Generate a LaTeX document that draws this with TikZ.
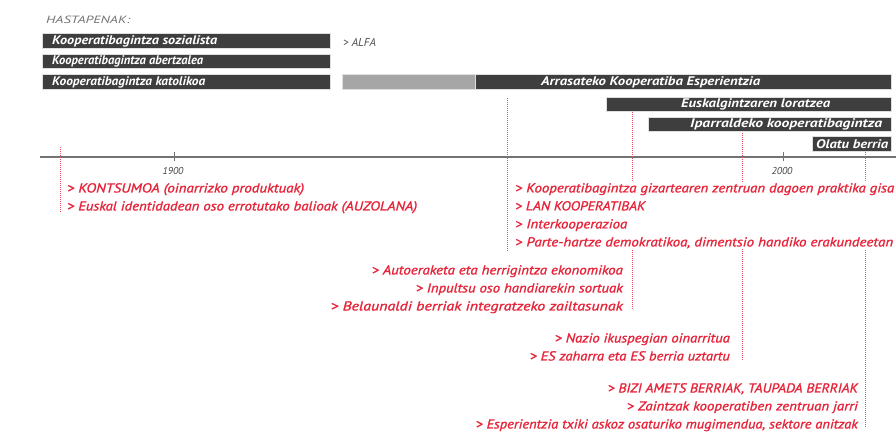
\documentclass[tikz,border=0pt]{standalone}
\usepackage{fontspec}
\setmainfont{PT Sans}
\newfontface\noteface{PT Sans Italic}[FakeBold=1.2]
\usetikzlibrary{positioning}
\definecolor{barcol}{RGB}{62,62,62}
\definecolor{greybar}{RGB}{166,166,166}
\definecolor{redtxt}{RGB}{230,36,58}
\newcommand{\fitw}[2]{\resizebox{#1}{\height}{#2}}

\begin{document}
\begin{tikzpicture}[x=1pt,y=-1pt,
	bar/.style={fill=barcol,draw=gray!25,line width=0.8pt,minimum height=14.5pt,inner sep=0pt,anchor=west},
	bartext/.style={text=white,font=\bfseries\itshape\fontsize{12.5}{12.5}\selectfont,inner sep=0pt},
	note/.style={text=redtxt,font=\noteface\fontsize{13}{18}\selectfont,fill=white,inner sep=1pt},
	vline/.style={redtxt!80,line width=0.5pt,dash pattern=on 1pt off 1pt},
	year/.style={font=\itshape\fontsize{10}{10}\selectfont,text=black!75}]
		\useasboundingbox (0,0) rectangle (896,431);
		\node[anchor=west,inner sep=0pt,font=\itshape\fontsize{10.5}{10.5}\selectfont,text=black!55] (hasta) at (46,20) {\fitw{84pt}{HASTAPENAK:}};
		% bars
		\node[bar,minimum width=288pt](sozial) at (42,41) {};
		\node[bartext,anchor=west] at (52,41) {\fitw{165pt}{Kooperatibagintza sozialista}};
		\node[bar,minimum width=288pt](abertz) at (42,61.5) {};
		\node[bartext,anchor=west] at (52,61.5) {\fitw{151pt}{Kooperatibagintza abertzalea}};
		\node[bar,minimum width=288pt](katol) at (42,82) {};
		\node[bartext,anchor=west] at (52,82) {\fitw{153pt}{Kooperatibagintza katolikoa}};
		\node[anchor=west,inner sep=0pt,font=\itshape\fontsize{11.5}{11.5}\selectfont,text=black!70] (alfa) at (343,42) {> ALFA};
		\node[bar,fill=greybar,minimum width=133pt](alfabar) at (342,82) {};
		\node[bar,minimum width=416pt](arrasate) at (475,82) {};
		\node[bartext,anchor=west] at (541,82) {\fitw{219pt}{Arrasateko Kooperatiba Esperientzia}};
		\node[bar,minimum width=285pt](euskal) at (606,104.5) {};
		\node[bartext,anchor=west] at (681,104.5) {\fitw{149pt}{Euskalgintzaren loratzea}};
		\node[bar,minimum width=243pt](ipar) at (648,124.5) {};
		\node[bartext,anchor=west] at (690,124.5) {\fitw{192pt}{Iparraldeko kooperatibagintza}};
		\node[bar,minimum width=79pt](olatu) at (812,144) {};
		\node[bartext,anchor=west] at (816,144) {\fitw{72pt}{Olatu berria}};
		% axis
		\coordinate (axl) at (40,157);
		\coordinate (axr) at (896,157);
		\draw[black!55,line width=1.2pt] (axl) -- (axr);
		\draw[black!55,line width=0.6pt] (174,152) -- (174,161) (783,152) -- (783,161);
		\node[year] (y1900) at (173,171) {1900};
		\node[year] (y2000) at (782,171) {2000};
		% red lines
		\coordinate (t1) at (60,147);  \coordinate (e1) at (60,212);
		\coordinate (t2) at (507,98);  \coordinate (e2) at (507,252);
		\coordinate (t3) at (632,112); \coordinate (e3) at (632,310);
		\coordinate (t4) at (742,133); \coordinate (e4) at (742,360);
		\coordinate (t5) at (865,152); \coordinate (e5) at (865,428);
		\path[vline]
		(t1) edge (e1)
		(t2) edge (e2)
		(t3) edge (e3)
		(t4) edge (e4)
		(t5) edge (e5);
		% notes
		\node[note,anchor=north west,align=left] (kontsumo) at (66,182) {\fitw{237pt}{> KONTSUMOA (oinarrizko produktuak)}\\\fitw{350pt}{> Euskal identidadean oso errotutako balioak (AUZOLANA)}};
		\node[note,anchor=north west,align=left] (lan) at (514,182) {\fitw{379pt}{> Kooperatibagintza gizartearen zentruan dagoen praktika gisa}\\\fitw{130pt}{> LAN KOOPERATIBAK}\\\fitw{112pt}{> Interkooperazioa}\\\fitw{378pt}{> Parte-hartze demokratikoa, dimentsio handiko erakundeetan}};
		\node[note,anchor=north east,align=right] (auto) at (624,264) {\fitw{251pt}{> Autoeraketa eta herrigintza ekonomikoa}\\\fitw{207pt}{> Inpultsu oso handiarekin sortuak}\\\fitw{292pt}{> Belaunaldi berriak integratzeko zailtasunak}};
		\node[note,anchor=north east,align=right] (nazio) at (731,332) {\fitw{175pt}{> Nazio ikuspegian oinarritua}\\\fitw{200pt}{> ES zaharra eta ES berria uztartu}};
		\node[note,anchor=north east,align=right] (bizi) at (859,382) {\fitw{250pt}{> BIZI AMETS BERRIAK, TAUPADA BERRIAK}\\\fitw{231pt}{> Zaintzak kooperatiben zentruan jarri}\\\fitw{382pt}{> Esperientzia txiki askoz osaturiko mugimendua, sektore anitzak}};
\end{tikzpicture}
\end{document}
